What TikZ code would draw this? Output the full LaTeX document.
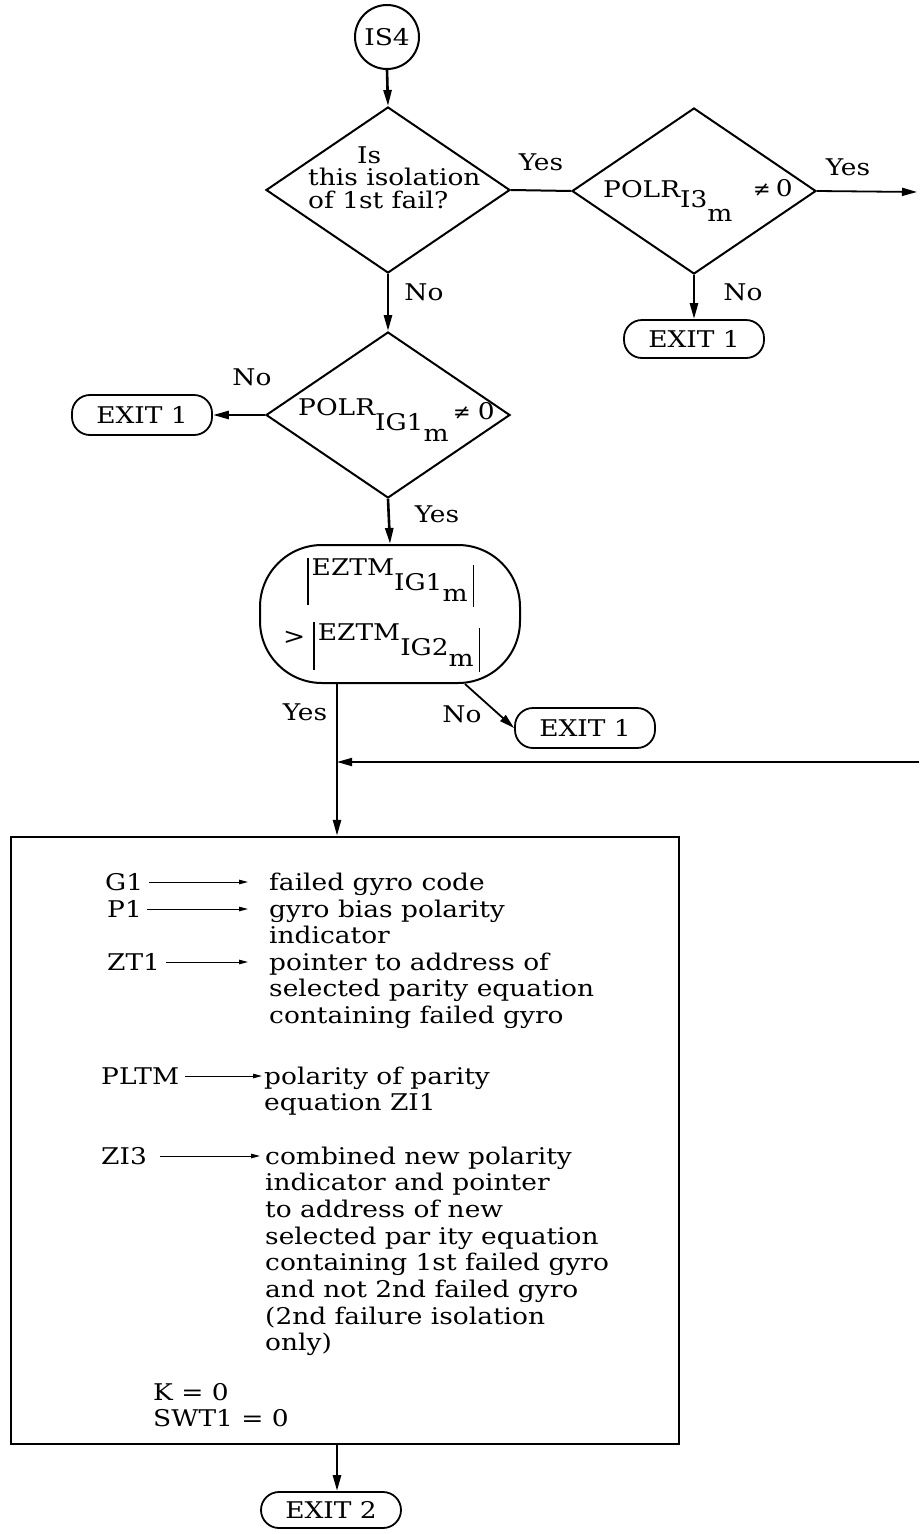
\documentclass[tikz,border=0pt]{standalone}
\usepackage{fontspec}
\setmainfont{DejaVu Serif}[FakeStretch=1.15]
\newfontfamily\symfont{DejaVu Sans}
\usetikzlibrary{shapes.geometric,arrows.meta}
\begin{document}
\begin{tikzpicture}[x=1pt,y=-1pt,
  every node/.style={font=\fontsize{23}{26.7}\selectfont, inner sep=0pt},
  flow/.style={line width=2.6pt,-{Triangle[length=16pt,width=8pt]}},
  thinflow/.style={line width=1.8pt,-{Triangle[length=15pt,width=8pt]}},
  plain/.style={line width=2pt},
  dec/.style={diamond, draw, line width=2pt, minimum width=244pt, minimum height=166pt},
  term/.style={draw, line width=1.8pt, rounded corners=18pt, minimum width=140pt, minimum height=38pt},
  small/.style={line width=1pt,-{Triangle[length=9pt,width=4.5pt]}},
  col/.style={anchor=base west, align=left},
  neq/.style={anchor=base west}
]
\useasboundingbox (0,0) rectangle (919,1534);

% start
\node[circle, draw, line width=2pt, minimum size=64pt] (s) at (387,37) {IS4};

% decisions
\node[dec] (d1) at (388,190) {};
\node[col] (q1) at (308,163) {\begin{tabular}[t]{@{}l@{}}\hspace*{49pt}Is\\[-4pt]this isolation\\[-4pt]of 1st fail?\end{tabular}};

\node[dec] (d2) at (694,191) {};
\node[anchor=base west] (p2) at (603,197) {POLR\raisebox{-10pt}{I3\raisebox{-14.5pt}{m}}};
\node[neq] (z2) at (753,196) {{\fontsize{21}{21}\symfont ≠}\hspace{5pt}0};

\node[dec] (d3) at (388,415) {};
\node[anchor=base west] (p3) at (298,415) {POLR\raisebox{-15pt}{IG1\raisebox{-11.5pt}{m}}};
\node[neq] (z3) at (453,419) {{\fontsize{21}{21}\symfont ≠}\hspace{7pt}0};

% comparison
\node[draw, line width=2pt, rounded corners=62pt, minimum width=260pt, minimum height=138pt] (cmp) at (390,614) {};
\node[anchor=base west] (e1) at (307,575) {\rule[-30pt]{1.5pt}{47pt}\hspace{3pt}EZTM\raisebox{-15pt}{IG1\raisebox{-11.5pt}{m}}\hspace{5pt}\rule[-32pt]{1.5pt}{42pt}};
\node[anchor=base west] (e2) at (283,640) {\raisebox{-4pt}{>}\hspace{8pt}\rule[-30pt]{1.5pt}{48pt}\hspace{3pt}EZTM\raisebox{-15pt}{IG2\raisebox{-11.5pt}{m}}\hspace{5pt}\rule[-32pt]{1.5pt}{44pt}};

% terminals
\node[term] (x1) at (694,339) {EXIT 1};
\node[term, minimum height=40pt] (x2) at (142,415) {EXIT 1};
\node[term, minimum height=40pt] (x3) at (585,728) {EXIT 1};
\node[term, minimum height=36pt] (x4) at (331,1510) {EXIT 2};

% process box
\node[draw, line width=2.4pt, minimum width=668pt, minimum height=607pt] (r) at (345,1140.5) {};

\node[anchor=base west] (g1) at (105,890) {G1};
\node[col] (t1) at (269,890) {failed gyro code};
\node[anchor=base west] (g2) at (107,917) {P1};
\node[col] (t2) at (269,917) {\begin{tabular}[t]{@{}l@{}}gyro bias polarity\\indicator\end{tabular}};
\node[anchor=base west] (g3) at (107,970) {ZT1};
\node[col] (t3) at (269,970) {\begin{tabular}[t]{@{}l@{}}pointer to address of\\selected parity equation\\containing failed gyro\end{tabular}};
\node[anchor=base west] (g4) at (101,1084) {PLTM};
\node[col] (t4) at (264,1084) {\begin{tabular}[t]{@{}l@{}}polarity of parity\\equation ZI1\end{tabular}};
\node[anchor=base west] (g5) at (101,1164) {ZI3};
\node[col] (t5) at (265,1164) {\begin{tabular}[t]{@{}l@{}}combined new polarity\\indicator and pointer\\to address of new\\selected par ity equation\\containing 1st failed gyro\\and not 2nd failed gyro\\(2nd failure isolation\\only)\end{tabular}};
\node[col] (kk) at (153,1400) {\begin{tabular}[t]{@{}l@{}}K = 0\\SWT1 = 0\end{tabular}};

% coordinates
\coordinate (ax) at (337,0);
\coordinate (nx) at (465,0);
\coordinate (out) at (917,192);
\coordinate (in) at (919,762);

% connectors
\draw[flow] (s.south) -- (d1.north);
\draw[plain] (d1.east) -- (d2.west);
\draw[thinflow] (d2.east) -- (out);
\draw[flow] (d2.south) -- (x1.north);
\draw[flow] (d1.south) -- (d3.north);
\draw[flow] (d3.west) -- (x2.east);
\draw[flow] (d3.south) -- (cmp.north);
\draw[flow] (cmp.south -| ax) -- (r.north -| ax);
\draw[thinflow] (cmp.south -| nx) -- (x3.west);
\draw[thinflow] (in) -- (in -| ax);
\draw[flow] (r.south -| ax) -- (x4.north -| ax);

% small arrows in box
\draw[small, shorten <=6pt, shorten >=21pt] ([yshift=8pt]g1.base east) -- ([yshift=8pt]g1.base east -| t1.west);
\draw[small, shorten <=5pt, shorten >=21pt] ([yshift=8pt]g2.base east) -- ([yshift=8pt]g2.base east -| t2.west);
\draw[small, shorten <=6pt, shorten >=21pt] ([yshift=8pt]g3.base east) -- ([yshift=8pt]g3.base east -| t3.west);
\draw[small, shorten <=6pt, shorten >=2pt] ([yshift=8pt]g4.base east) -- ([yshift=8pt]g4.base east -| t4.west);
\draw[small, shorten <=13pt, shorten >=5pt] ([yshift=8pt]g5.base east) -- ([yshift=8pt]g5.base east -| t5.west);

% branch labels
\node[anchor=base] (y1) at (541,170) {Yes};
\node[anchor=base] (y2) at (848,175) {Yes};
\node[anchor=base] (n1) at (743,300) {No};
\node[anchor=base] (n2) at (424,300) {No};
\node[anchor=base] (n3) at (252,385) {No};
\node[anchor=base] (y3) at (437,522) {Yes};
\node[anchor=base] (y4) at (305,720) {Yes};
\node[anchor=base] (n4) at (462,722) {No};
\end{tikzpicture}
\end{document}
